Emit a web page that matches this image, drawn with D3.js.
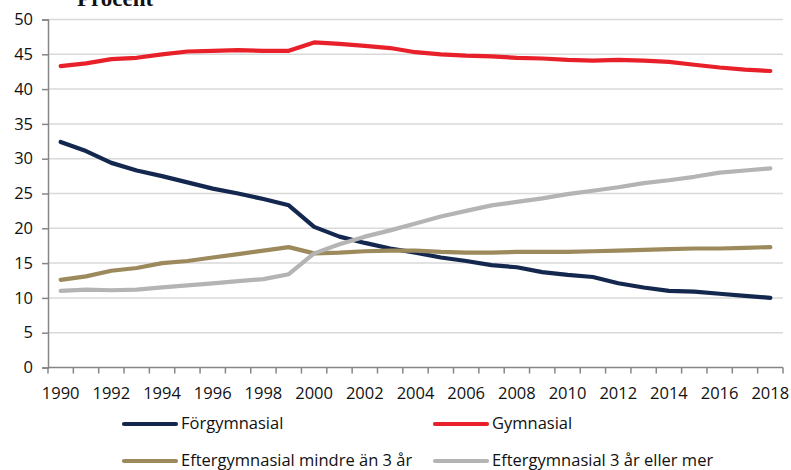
<!DOCTYPE html>
<html>
<head>
<meta charset="utf-8">
<script src="https://cdn.jsdelivr.net/npm/d3@7"></script>
<style>
  body { margin: 0; background: #fff; }
  svg { display: block; }
</style>
</head>
<body>
<script>
// Data
const years = d3.range(1990, 2019);
const yTicks = [0, 5, 10, 15, 20, 25, 30, 35, 40, 45, 50];

const forgymnasial = [32.4, 31.1, 29.4, 28.3, 27.5, 26.6, 25.7, 25.0, 24.2, 23.3,
  20.2, 18.8, 17.9, 17.1, 16.5, 15.8, 15.3, 14.7, 14.4, 13.7,
  13.3, 13.0, 12.1, 11.5, 11.0, 10.9, 10.6, 10.3, 10.0];
const gymnasial = [43.3, 43.7, 44.3, 44.5, 45.0, 45.4, 45.5, 45.6, 45.5, 45.5,
  46.7, 46.5, 46.2, 45.9, 45.3, 45.0, 44.8, 44.7, 44.5, 44.4,
  44.2, 44.1, 44.2, 44.1, 43.9, 43.5, 43.1, 42.8, 42.6];
const efterKort = [12.6, 13.1, 13.9, 14.3, 15.0, 15.3, 15.8, 16.3, 16.8, 17.3,
  16.4, 16.5, 16.7, 16.8, 16.8, 16.6, 16.5, 16.5, 16.6, 16.6,
  16.6, 16.7, 16.8, 16.9, 17.0, 17.1, 17.1, 17.2, 17.3];
const efterLang = [11.0, 11.2, 11.1, 11.2, 11.5, 11.8, 12.1, 12.4, 12.7, 13.4,
  16.4, 17.7, 18.8, 19.7, 20.7, 21.7, 22.5, 23.3, 23.8, 24.3,
  24.9, 25.4, 25.9, 26.5, 26.9, 27.4, 28.0, 28.3, 28.6];

const seriesNames = ["Förgymnasial", "Gymnasial", "Eftergymnasial mindre än 3 år", "Eftergymnasial 3 år eller mer"];
const seriesValues = [forgymnasial, gymnasial, efterKort, efterLang];
const seriesColors = ["#14284f", "#e8202a", "#9c8a5c", "#b4b4b4"];

const width = 791, height = 470;
const plot = { left: 48, right: 783, top: 19.5, bottom: 367.5 };
const font = "'Open Sans', sans-serif";

const svg = d3.select("body").append("svg")
  .attr("width", width)
  .attr("height", height);

const x = d3.scaleBand().domain(years).range([plot.left, plot.right]);
const y = d3.scaleLinear().domain([0, 50]).range([plot.bottom, plot.top]);

// title fragment at the top, partly cut off like in the source
svg.append("text")
  .attr("x", 77)
  .attr("y", 6)
  .style("font-family", "'Liberation Serif', 'Times New Roman', serif")
  .style("font-weight", "bold")
  .style("font-size", "23px")
  .style("fill", "#111")
  .text("Procent");

// gridlines
svg.append("g")
  .selectAll("line")
  .data(yTicks.filter(d => d > 0))
  .join("line")
  .attr("x1", plot.left)
  .attr("x2", plot.right)
  .attr("y1", d => y(d))
  .attr("y2", d => y(d))
  .attr("stroke", "#d9d9d9")
  .attr("stroke-width", 1.5);

// y axis
const yAxis = svg.append("g")
  .attr("transform", `translate(${plot.left},0)`)
  .call(d3.axisLeft(y).tickValues(yTicks).tickSize(6).tickPadding(9));
yAxis.select(".domain").attr("stroke", "#868686").attr("stroke-width", 1.5);
yAxis.selectAll(".tick line").attr("stroke", "#868686").attr("stroke-width", 1.5);
yAxis.selectAll("text")
  .style("font-family", font)
  .style("font-size", "16.5px")
  .attr("fill", "#111");

// x axis: ticks on band edges, labels every second year
const xAxis = svg.append("g");
xAxis.append("line")
  .attr("x1", plot.left).attr("x2", plot.right)
  .attr("y1", plot.bottom).attr("y2", plot.bottom)
  .attr("stroke", "#868686").attr("stroke-width", 1.5);
xAxis.selectAll(".xtick")
  .data(years.concat([2019]))
  .join("line")
  .attr("class", "xtick")
  .attr("x1", d => d === 2019 ? plot.right : x(d))
  .attr("x2", d => d === 2019 ? plot.right : x(d))
  .attr("y1", plot.bottom)
  .attr("y2", plot.bottom + 6)
  .attr("stroke", "#868686").attr("stroke-width", 1.5);
xAxis.selectAll(".xlabel")
  .data(years.filter(d => d % 2 === 0))
  .join("text")
  .attr("class", "xlabel")
  .attr("x", d => x(d) + x.bandwidth() / 2)
  .attr("y", plot.bottom + 31)
  .attr("text-anchor", "middle")
  .style("font-family", font)
  .style("font-size", "16.5px")
  .attr("fill", "#111")
  .text(d => d);

// series lines
const line = d3.line()
  .x((d, i) => x(years[i]) + x.bandwidth() / 2)
  .y(d => y(d));

svg.append("g")
  .selectAll("path")
  .data(seriesValues)
  .join("path")
  .attr("d", line)
  .attr("fill", "none")
  .attr("stroke", (d, i) => seriesColors[i])
  .attr("stroke-width", 4.2)
  .attr("stroke-linejoin", "round")
  .attr("stroke-linecap", "round");

// legend
const legendPos = [[122, 424], [433, 424], [122, 461], [433, 461]];
const legend = svg.append("g")
  .selectAll("g")
  .data(seriesNames)
  .join("g")
  .attr("transform", (d, i) => `translate(${legendPos[i][0]},${legendPos[i][1]})`);

legend.append("line")
  .attr("x1", 2).attr("x2", 54)
  .attr("stroke", (d, i) => seriesColors[i])
  .attr("stroke-width", 4.2)
  .attr("stroke-linecap", "round");

legend.append("text")
  .attr("x", 59)
  .attr("y", 5)
  .style("font-family", font)
  .style("font-size", "16.5px")
  .attr("fill", "#111")
  .text(d => d);
</script>
</body>
</html>
